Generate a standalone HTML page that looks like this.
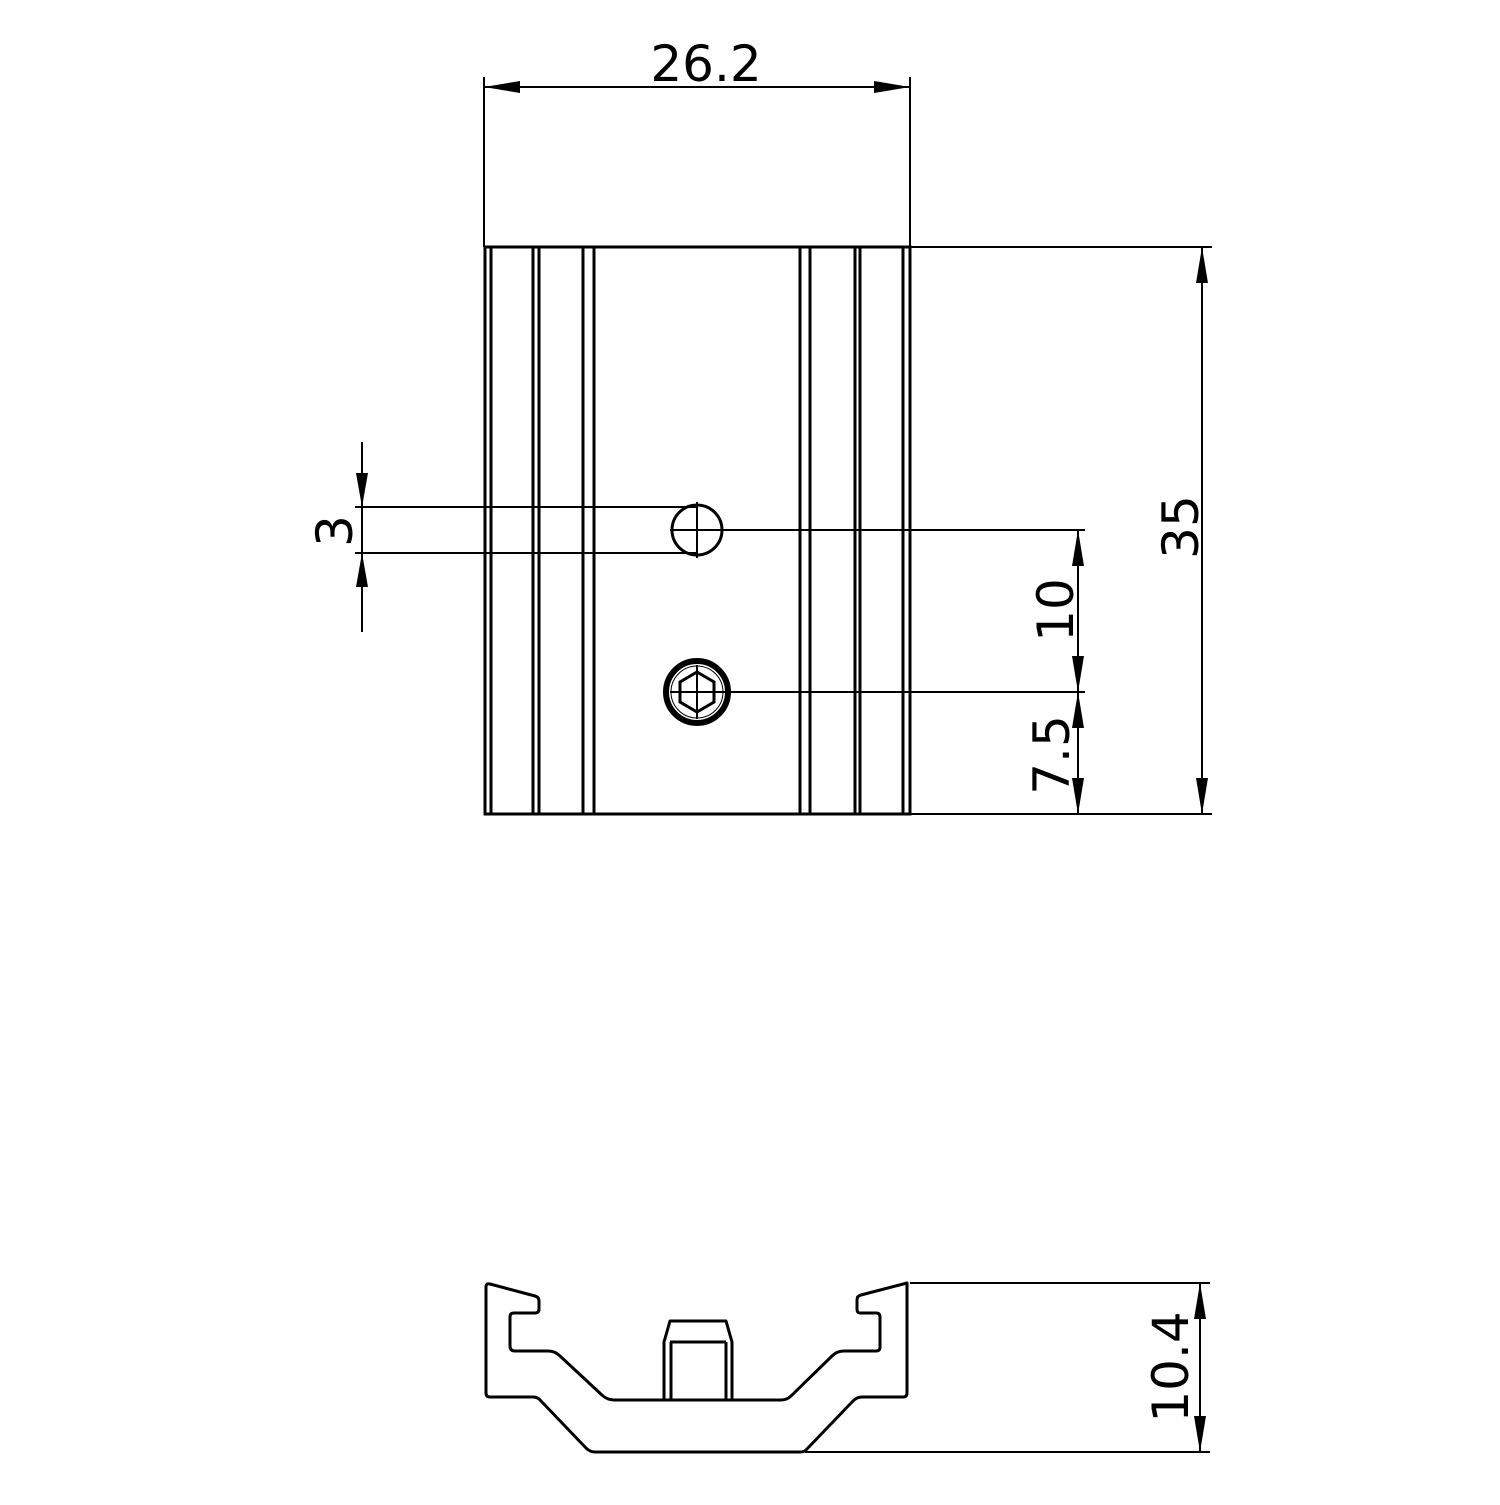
<!DOCTYPE html>
<html><head><style>html,body{margin:0;padding:0;background:#fff}</style></head><body>
<svg width="1500" height="1500" viewBox="0 0 1500 1500" xmlns="http://www.w3.org/2000/svg" font-family="'DejaVu Sans','Liberation Sans',sans-serif">
<g stroke="#000" fill="none" stroke-width="2">
<!-- top dim -->
<line x1="484" y1="77" x2="484" y2="247"/>
<line x1="910" y1="77" x2="910" y2="247"/>
<line x1="484" y1="87" x2="910" y2="87"/>
<!-- right dims -->
<line x1="910" y1="247" x2="1212" y2="247"/>
<line x1="910" y1="814" x2="1212" y2="814"/>
<line x1="1202" y1="247" x2="1202" y2="814"/>
<line x1="722" y1="530" x2="1085" y2="530"/>
<line x1="731" y1="692" x2="1085" y2="692"/>
<line x1="1078" y1="530" x2="1078" y2="814"/>
<!-- 3 dim -->
<line x1="355" y1="507" x2="697" y2="507"/>
<line x1="355" y1="553" x2="697" y2="553"/>
<line x1="362" y1="442" x2="362" y2="632"/>
<!-- bottom dim -->
<line x1="910" y1="1283" x2="1210" y2="1283"/>
<line x1="805" y1="1452" x2="1210" y2="1452"/>
<line x1="1200" y1="1283" x2="1200" y2="1452"/>
</g>
<g fill="#000">
<polygon points="484,87 520,81 520,93"/>
<polygon points="910,87 874,81 874,93"/>
<polygon points="1202,247 1196,283 1208,283"/>
<polygon points="1202,814 1196,778 1208,778"/>
<polygon points="1078,530 1072,566 1084,566"/>
<polygon points="1078,692 1072,656 1084,656"/>
<polygon points="1078,692 1072,728 1084,728"/>
<polygon points="1078,814 1072,778 1084,778"/>
<polygon points="362,507 356,473 368,473"/>
<polygon points="362,553 356,587 368,587"/>
<polygon points="1200,1283 1194,1319 1206,1319"/>
<polygon points="1200,1452 1194,1416 1206,1416"/>
</g>
<!-- top view body -->
<g stroke="#000" fill="none" stroke-width="3">
<rect x="485" y="247" width="425" height="567"/>
<line x1="491" y1="247" x2="491" y2="814"/>
<line x1="533" y1="247" x2="533" y2="814"/>
<line x1="539" y1="247" x2="539" y2="814"/>
<line x1="583" y1="247" x2="583" y2="814"/>
<line x1="594" y1="247" x2="594" y2="814"/>
<line x1="800" y1="247" x2="800" y2="814"/>
<line x1="810" y1="247" x2="810" y2="814"/>
<line x1="855" y1="247" x2="855" y2="814"/>
<line x1="860" y1="247" x2="860" y2="814"/>
<line x1="903" y1="247" x2="903" y2="814"/>
<circle cx="697" cy="530" r="25"/>
<polygon points="697,672 714,682 714,702 697,712 680,702 680,682"/>
</g>
<g stroke="#000" fill="none">
<line x1="697" y1="502" x2="697" y2="558" stroke-width="2"/>
<line x1="670" y1="530" x2="722" y2="530" stroke-width="2"/>
<circle cx="697" cy="692" r="31" stroke-width="6"/>
<circle cx="697" cy="692" r="26" stroke-width="1"/>
<line x1="697" y1="665" x2="697" y2="719" stroke-width="2"/>
<line x1="670" y1="692" x2="731" y2="692" stroke-width="2"/>
</g>
<!-- section view -->
<g stroke="#000" fill="none" stroke-width="3" stroke-linejoin="round">
<path d="M486,1287 Q486,1283 490,1284 L535,1296 Q539,1297 539,1301 L539,1309 Q539,1313 535,1313 L514,1313 Q510,1313 510,1317 L510,1346 Q510,1351 515,1351 L548,1351 Q555,1351 560,1356 L603,1396 Q608,1400 614,1400 L781,1400 Q787,1400 791,1396 L832,1356 Q837,1351 844,1351 L876,1351 Q880,1351 880,1347 L880,1317 Q880,1313 876,1313 L860,1313 Q857,1313 857,1309 L857,1300 Q857,1296 861,1295 L907,1283 L907,1393 Q907,1397 903,1397 L862,1397 Q857,1397 853,1401 L806,1450 Q804,1452 800,1452 L595,1452 Q590,1452 586,1448 L541,1401 Q538,1397 533,1397 L490,1397 Q486,1397 486,1393 Z"/>
<path d="M664,1400 L664,1342 L670,1321 L726,1321 L732,1342 L732,1400"/>
<line x1="670" y1="1342" x2="726" y2="1342"/>
<line x1="671" y1="1342" x2="671" y2="1400"/>
<line x1="726" y1="1342" x2="726" y2="1400"/>
</g>
<!-- texts -->
<g fill="#000" font-size="50">
<text x="706" y="81" text-anchor="middle">26.2</text>
<text transform="translate(1198,527) rotate(-90)" text-anchor="middle">35</text>
<text transform="translate(1073,610) rotate(-90)" text-anchor="middle">10</text>
<text transform="translate(1069,755) rotate(-90)" text-anchor="middle">7.5</text>
<text transform="translate(352,531) rotate(-90)" text-anchor="middle">3</text>
<text transform="translate(1188,1367) rotate(-90)" text-anchor="middle">10.4</text>
</g>
</svg>
</body></html>
